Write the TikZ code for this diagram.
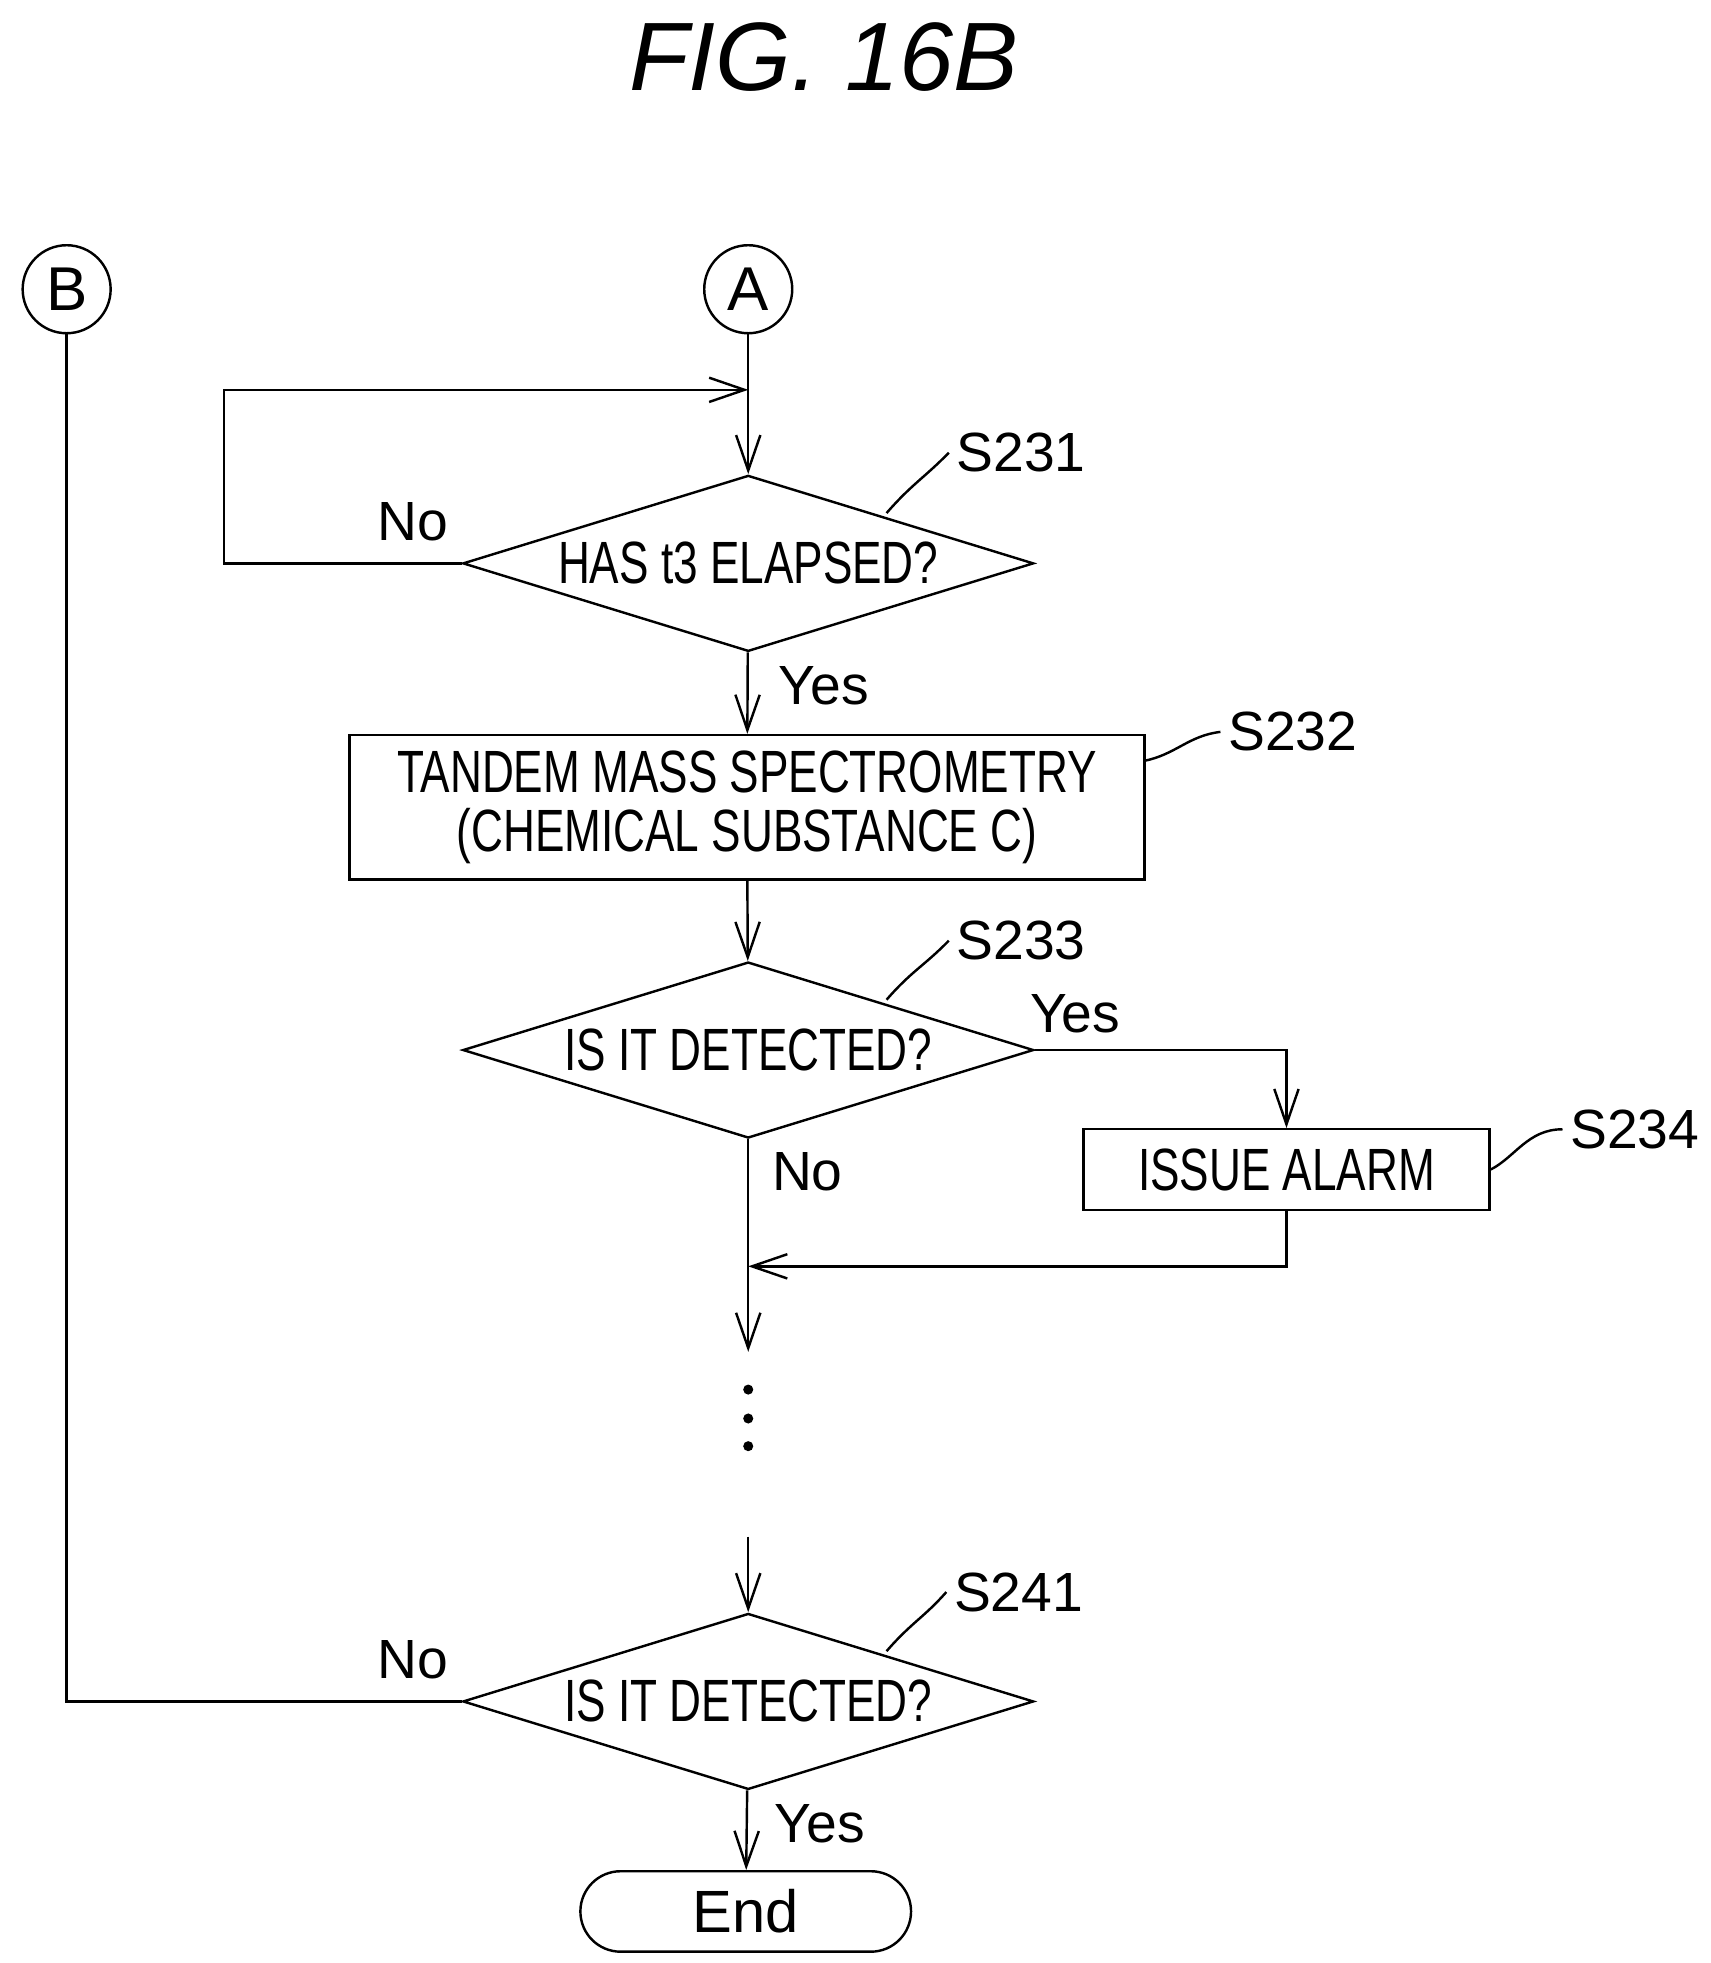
\documentclass[tikz,border=0pt]{standalone}
\usepackage{fontspec}
\setmainfont{Liberation Sans}
\newfontfamily\narrowfont{Liberation Sans}[FakeStretch=0.74]
\usetikzlibrary{shapes.geometric,arrows.meta}

\tikzset{
    line/.style={line width=1.1pt},
    arr/.style={line, -{Straight Barb[length=16pt,width=11pt]}},
    decision/.style={draw, line, diamond, minimum width=9.08cm, minimum height=2.8cm,
        inner sep=0pt, shape aspect=3.2, font=\narrowfont\fontsize{27}{30}\selectfont},
    process/.style={draw, line, rectangle, align=center, inner sep=0pt,
        font=\narrowfont\fontsize{27}{30}\selectfont},
    connector/.style={draw, line, circle, minimum size=1.4cm, inner sep=0pt,
        font=\fontsize{28}{30}\selectfont},
    tag/.style={font=\fontsize{25}{28}\selectfont},
}

\begin{document}
\begin{tikzpicture}[x=0.02cm,y=-0.02cm]
\useasboundingbox (0,0) rectangle (1360,1561);

\node[font=\itshape\fontsize{44}{48}\selectfont] (title) at (655,45) {FIG. 16B};

% connectors
\node[connector] (B) at (53,230) {B};
\node[connector] (A) at (595,230) {A};

% steps
\node[decision] (s231) at (595,448) {HAS t3 ELAPSED?};
\node[process, minimum width=12.64cm, minimum height=2.3cm] (s232) at (594,642)
    {TANDEM MASS SPECTROMETRY\\[-3pt](CHEMICAL SUBSTANCE C)};
\node[decision] (s233) at (595,835) {IS IT DETECTED?};
\node[process, minimum width=6.46cm, minimum height=1.28cm] (s234) at (1023,930) {ISSUE ALARM};
\node[decision] (s241) at (595,1353) {IS IT DETECTED?};
\node[draw, line, rounded corners=0.64cm, minimum width=5.26cm, minimum height=1.28cm,
    font=\fontsize{27}{30}\selectfont] (end) at (593,1520) {End};

% step labels
\node[tag] (l231) at (812,360) {S231};
\node[tag] (l232) at (1028,582) {S232};
\node[tag] (l233) at (812,748) {S233};
\node[tag] (l234) at (1300,898) {S234};
\node[tag] (l241) at (810,1266) {S241};
\draw[line] (705,408) .. controls (725,385) and (735,380) .. (l231.west);
\draw[line] (910,605) .. controls (935,600) and (945,585) .. (l232.west);
\draw[line] (705,795) .. controls (725,772) and (735,768) .. (l233.west);
\draw[line] (s234.east) .. controls (1205,920) and (1215,898) .. (l234.west);
\draw[line] (705,1313) .. controls (725,1290) and (735,1286) .. (l241.west);

% branch labels
\node[tag] (no1) at (328,415) {No};
\node[tag] (yes1) at (655,545) {Yes};
\node[tag] (yes2) at (855,806) {Yes};
\node[tag] (no2) at (642,932) {No};
\node[tag] (no3) at (328,1320) {No};
\node[tag] (yes3) at (652,1450) {Yes};

% flow
\coordinate (loop) at (595,310);
\draw[arr] (A) -- (s231);
\draw[arr] (s231.west) -| (178,310) -- (loop);
\draw[arr] (s231) -- (s232);
\draw[arr] (s232) -- (s233);
\draw[arr] (s233.east) -| (s234.north);
\coordinate (join) at (595,1007);
\draw[arr] (s234.south) |- (join);
\coordinate (gap1) at (595,1075);
\draw[arr] (s233.south) -- (gap1);
\foreach \y in {1105,1128,1150}
    \fill (595,\y) circle (4);
\coordinate (gap2) at (595,1222);
\draw[arr] (gap2) -- (s241.north);
\draw[line] (s241.west) -| (B.south);
\draw[arr] (s241) -- (end);
\end{tikzpicture}
\end{document}
